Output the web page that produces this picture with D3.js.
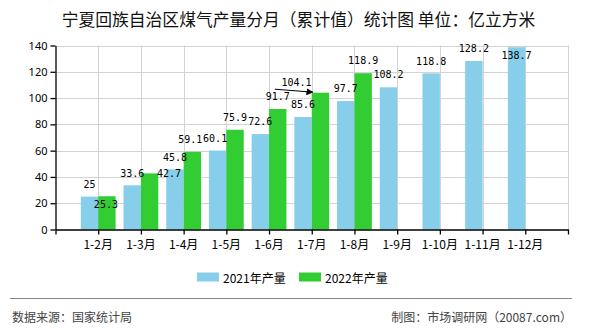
<!DOCTYPE html>
<html><head><meta charset="utf-8">
<script src="https://cdn.jsdelivr.net/npm/d3@7"></script>
<style>
html,body{margin:0;padding:0;background:#fff;}
svg{display:block;}
</style></head>
<body>
<svg id="chart" width="590" height="330"></svg>
<script>
const categories = ["1-2月","1-3月","1-4月","1-5月","1-6月","1-7月","1-8月","1-9月","1-10月","1-11月","1-12月"];
const values2021 = [25, 33.6, 45.8, 60.1, 72.6, 85.6, 97.7, 108.2, 118.8, 128.2, 138.7];
const values2022 = [25.3, 42.7, 59.1, 75.9, 91.7, 104.1, 118.9];
const seriesNames = ["2021年产量", "2022年产量"];
const yTicks = [0, 20, 40, 60, 80, 100, 120, 140];
const titleText = "宁夏回族自治区煤气产量分月（累计值）统计图 单位：亿立方米";
const sourceText = "数据来源：国家统计局";
const makerText = "制图：市场调研网（20087.com）";

const colors = ["#87CEEB", "#32CD32"];
const svg = d3.select("#chart");
const L = 55.5, R = 568, T = 45.5, B = 229.5;
const cjk = "'Noto Sans CJK SC', 'Noto Sans', sans-serif";
const mono = "'DejaVu Sans Mono', monospace";

const x = d3.scalePoint().domain(categories).range([L, R]).padding(1);
const barW = 17.4;
const y = d3.scaleLinear().domain([0, 140]).range([B, T]);

// title
svg.append("text").attr("x", 298.5).attr("y", 19).attr("text-anchor", "middle")
  .attr("dominant-baseline", "central").attr("font-family", cjk).attr("font-size", 16.8)
  .attr("fill", "#111").text(titleText);

// gridlines
const g = svg.append("g");
g.selectAll(".hg").data(yTicks.filter(d => d > 0)).join("line")
  .attr("x1", L).attr("x2", R).attr("y1", d => Math.round(y(d)) + 0.5).attr("y2", d => Math.round(y(d)) + 0.5)
  .attr("stroke", "#d3d3d3").attr("stroke-width", 1);
const vgrid = categories.map(c => x(c)).concat([R]);
g.selectAll(".vg").data(vgrid).join("line")
  .attr("x1", d => Math.round(d) + 0.5).attr("x2", d => Math.round(d) + 0.5).attr("y1", T).attr("y2", B)
  .attr("stroke", "#d3d3d3").attr("stroke-width", 1);

// bars
const bars = svg.append("g");
bars.selectAll(".b1").data(values2021).join("rect")
  .attr("x", (d, i) => x(categories[i]) - barW).attr("width", barW)
  .attr("y", d => y(d)).attr("height", d => B - y(d)).attr("fill", colors[0]);
bars.selectAll(".b2").data(values2022).join("rect")
  .attr("x", (d, i) => x(categories[i])).attr("width", barW)
  .attr("y", d => y(d)).attr("height", d => B - y(d)).attr("fill", colors[1]);

// axes
const xAxis = svg.append("g").attr("transform", `translate(0,${B})`)
  .call(d3.axisBottom(x).tickSize(5).tickSizeOuter(5).tickFormat(""));
xAxis.selectAll("path,line").attr("stroke", "#000").attr("stroke-width", 1.3);
svg.append("g").selectAll("text").data(categories).join("text")
  .attr("x", d => x(d)).attr("y", 243).attr("text-anchor", "middle").attr("dominant-baseline", "central")
  .attr("font-family", cjk).attr("font-size", 12).attr("fill", "#000").text(d => d);

const yAxis = svg.append("g").attr("transform", `translate(${L},0)`)
  .call(d3.axisLeft(y).tickValues(yTicks).tickSize(5).tickSizeOuter(0).tickPadding(3));
yAxis.selectAll("path,line").attr("stroke", "#000").attr("stroke-width", 1.3);
yAxis.selectAll("text").attr("font-family", "'Noto Sans', sans-serif").attr("font-size", 11).attr("fill", "#000");

// data labels
const labelShift = {
  "1-0": [-1, 20.5], "1-1": [19.5, 12.5], "0-3": [-2.5, 0], "1-2": [-2, 0], "1-5": [-24, 2], "0-10": [0, 20.5]
};
const labels = svg.append("g").attr("font-family", mono).attr("font-size", 10).attr("fill", "#000");
function addLabels(vals, s) {
  labels.selectAll(".l" + s).data(vals).join("text")
    .attr("x", (d, i) => x(categories[i]) + (s === 0 ? -barW / 2 : barW / 2) + ((labelShift[s + "-" + i] || [0, 0])[0]))
    .attr("y", (d, i) => y(d) - 12.3 + ((labelShift[s + "-" + i] || [0, 0])[1]))
    .attr("text-anchor", "middle").attr("dominant-baseline", "central").text(d => d);
}
addLabels(values2021, 0);
addLabels(values2022, 1);

// leader line for 104.1
const defs = svg.append("defs");
defs.append("marker").attr("id", "arr").attr("viewBox", "0 0 10 10").attr("refX", 9).attr("refY", 5)
  .attr("markerWidth", 7).attr("markerHeight", 7).attr("markerUnits", "userSpaceOnUse").attr("orient", "auto")
  .append("path").attr("d", "M0,0L10,5L0,10Z").attr("fill", "#000");
const li = 5;
const tip = [x(categories[li]) + 1, y(values2022[li]) - 0.5];
svg.append("line").attr("x1", tip[0] - 38).attr("y1", tip[1] - 3).attr("x2", tip[0]).attr("y2", tip[1])
  .attr("stroke", "#000").attr("stroke-width", 1).attr("marker-end", "url(#arr)");

// legend
const leg = svg.append("g");
const legX = [197, 299];
seriesNames.forEach((n, i) => {
  leg.append("rect").attr("x", legX[i]).attr("y", 272.5).attr("width", 22).attr("height", 9).attr("fill", colors[i]);
  leg.append("text").attr("x", legX[i] + 26).attr("y", 277).attr("dominant-baseline", "central")
    .attr("font-family", cjk).attr("font-size", 12).attr("fill", "#000").text(n);
});

// footer
svg.append("line").attr("x1", 10).attr("x2", 572).attr("y1", 298.5).attr("y2", 298.5).attr("stroke", "#888").attr("stroke-width", 1.2);
svg.append("text").attr("x", 12).attr("y", 316).attr("dominant-baseline", "central")
  .attr("font-family", cjk).attr("font-size", 12).attr("fill", "#444").text(sourceText);
svg.append("text").attr("x", 572).attr("y", 316).attr("text-anchor", "end").attr("dominant-baseline", "central")
  .attr("font-family", cjk).attr("font-size", 12).attr("fill", "#444").text(makerText);
</script>
</body></html>
